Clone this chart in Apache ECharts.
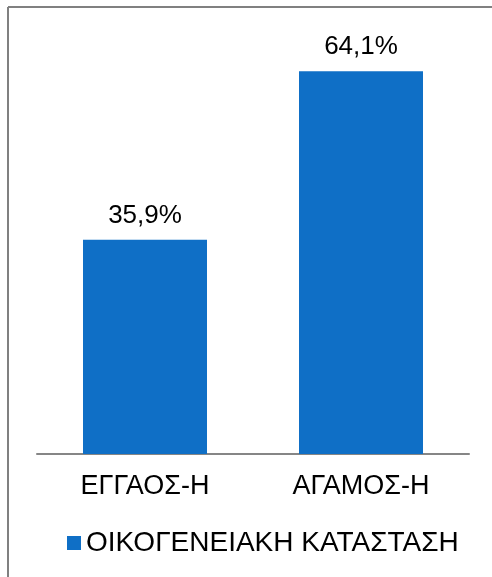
<!DOCTYPE html>
<html>
<head>
<meta charset="utf-8">
<script src="https://cdn.jsdelivr.net/npm/echarts@6/dist/echarts.min.js"></script>
<style>
  html, body { margin: 0; padding: 0; background: #fff; }
  #chart { width: 492px; height: 577px; }
</style>
</head>
<body>
<div id="chart"></div>
<script>
// Marital status shares (percent)
const categories = ['ΕΓΓΑΟΣ-Η', 'ΑΓΑΜΟΣ-Η'];
const shares = [35.9, 64.1];
const seriesName = 'ΟΙΚΟΓΕΝΕΙΑΚΗ ΚΑΤΑΣΤΑΣΗ';

const font = '"Liberation Sans", Arial, sans-serif';
const chart = echarts.init(document.getElementById('chart'), null, { renderer: 'canvas' });

chart.setOption({
  animation: false,
  textStyle: { fontFamily: font },
  graphic: [
    // frame lines along the top and left edges
    { type: 'line', shape: { x1: 8, y1: 7, x2: 492, y2: 7 }, style: { stroke: '#808080', lineWidth: 2 } },
    { type: 'line', shape: { x1: 8, y1: 7, x2: 8, y2: 577 }, style: { stroke: '#808080', lineWidth: 2 } }
  ],
  grid: { left: 37, right: 23, top: 36, bottom: 123, containLabel: false },
  legend: {
    data: [seriesName],
    left: 62,
    top: 524,
    itemWidth: 14,
    itemHeight: 14,
    icon: 'rect',
    textStyle: { fontFamily: font, fontSize: 28, color: '#000' }
  },
  xAxis: {
    type: 'category',
    data: categories,
    axisLine: { lineStyle: { color: '#868686', width: 2 } },
    axisTick: { show: false },
    axisLabel: { fontFamily: font, fontSize: 27, color: '#000', margin: 19 }
  },
  yAxis: {
    type: 'value',
    min: 0,
    max: 70,
    show: false,
    splitLine: { show: false }
  },
  series: [{
    name: seriesName,
    type: 'bar',
    data: shares,
    barWidth: 124,
    itemStyle: { color: '#0F6FC6' },
    label: {
      show: true,
      position: 'top',
      distance: 11,
      fontFamily: font,
      fontSize: 26,
      color: '#000',
      formatter: p => p.value.toFixed(1).replace('.', ',') + '%'
    }
  }]
});
</script>
</body>
</html>
